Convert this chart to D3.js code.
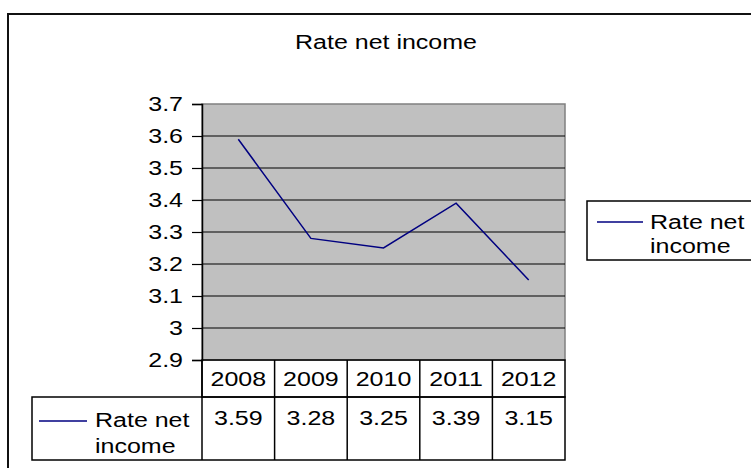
<!DOCTYPE html>
<html>
<head>
<meta charset="utf-8">
<script src="https://cdn.jsdelivr.net/npm/d3@7"></script>
<style>
  body { margin: 0; background: #fff; }
  text { font-family: "Liberation Sans", Arial, sans-serif; fill: #000; }
</style>
</head>
<body>
<div id="chart"></div>
<script>
// data
const years = ["2008", "2009", "2010", "2011", "2012"];
const rateNetIncome = [3.59, 3.28, 3.25, 3.39, 3.15];
const yTicks = [2.9, 3, 3.1, 3.2, 3.3, 3.4, 3.5, 3.6, 3.7];
const seriesName = ["Rate net", "income"];

const W = 751, H = 468;
const plot = {left: 202, right: 565, top: 104, bottom: 360};
const fs = 20;     // font size
const sx = 1.25;   // the original text is a bit wider than plain Arial

const svg = d3.select("#chart")
    .append("svg")
    .attr("width", W)
    .attr("height", H);

// helper: text stretched sideways like in the source picture
function label(x, y, str, anchor) {
    return svg.append("text")
        .attr("transform", `translate(${x},${y}) scale(${sx},1)`)
        .attr("text-anchor", anchor || "start")
        .style("font-size", fs + "px")
        .text(str);
}

// outer chart border (runs off the right and bottom of the window)
svg.append("rect")
    .attr("x", 8).attr("y", 14)
    .attr("width", 800).attr("height", 500)
    .attr("fill", "none")
    .attr("stroke", "#111")
    .attr("stroke-width", 2);

// title
label(386, 49, "Rate net income", "middle");

// scales
const x = d3.scaleBand()
    .domain(years)
    .range([plot.left, plot.right])
    .padding(0);

const y = d3.scaleLinear()
    .domain([2.9, 3.7])
    .range([plot.bottom, plot.top]);

// plot area
svg.append("rect")
    .attr("x", plot.left).attr("y", plot.top)
    .attr("width", plot.right - plot.left)
    .attr("height", plot.bottom - plot.top)
    .attr("fill", "#c0c0c0")
    .attr("stroke", "#808080")
    .attr("stroke-width", 1.5);

// gridlines
svg.append("g")
    .selectAll("line")
    .data(yTicks.filter(d => d > 2.9 && d < 3.7))
    .join("line")
    .attr("x1", plot.left).attr("x2", plot.right)
    .attr("y1", d => y(d)).attr("y2", d => y(d))
    .attr("stroke", "#000")
    .attr("stroke-width", 1.2);

// y axis
const yAxis = svg.append("g")
    .attr("transform", `translate(${plot.left},0)`)
    .call(d3.axisLeft(y)
        .tickValues(yTicks)
        .tickSize(10)
        .tickFormat(d => String(+d.toFixed(1))));
yAxis.select(".domain").attr("stroke", "#000").attr("stroke-width", 1.5);
yAxis.selectAll(".tick line").attr("stroke", "#000").attr("stroke-width", 1.2);
yAxis.selectAll(".tick text")
    .attr("x", -19 / sx)
    .attr("transform", `scale(${sx},1)`)
    .style("font-size", fs + "px")
    .style("font-family", '"Liberation Sans", Arial, sans-serif');

// line
const line = d3.line()
    .x((d, i) => x(years[i]) + x.bandwidth() / 2)
    .y(d => y(d));

svg.append("path")
    .datum(rateNetIncome)
    .attr("d", line)
    .attr("fill", "none")
    .attr("stroke", "#000080")
    .attr("stroke-width", 1.5);

// data table
const rowTop = plot.bottom, rowMid = 397, rowBot = 460, labelLeft = 32;
const table = svg.append("g")
    .attr("stroke", "#000")
    .attr("stroke-width", 1.5)
    .attr("fill", "none");

table.append("rect")
    .attr("x", plot.left).attr("y", rowTop)
    .attr("width", plot.right - plot.left).attr("height", rowMid - rowTop);
table.append("rect")
    .attr("x", labelLeft).attr("y", rowMid)
    .attr("width", plot.right - labelLeft).attr("height", rowBot - rowMid);
table.selectAll("line.col")
    .data(years)
    .join("line")
    .attr("class", "col")
    .attr("x1", d => x(d)).attr("x2", d => x(d))
    .attr("y1", rowTop).attr("y2", rowBot);

years.forEach(d => label(x(d) + x.bandwidth() / 2, 386, d, "middle"));
rateNetIncome.forEach((d, i) =>
    label(x(years[i]) + x.bandwidth() / 2, 425, d.toFixed(2), "middle"));

// legend key inside table
svg.append("line")
    .attr("x1", 39).attr("x2", 87)
    .attr("y1", 421).attr("y2", 421)
    .attr("stroke", "#000080").attr("stroke-width", 1.5);
label(95, 427, seriesName[0]);
label(95, 453, seriesName[1]);

// legend on the right (runs off the window edge)
svg.append("rect")
    .attr("x", 587).attr("y", 201)
    .attr("width", 200).attr("height", 59)
    .attr("fill", "#fff")
    .attr("stroke", "#000")
    .attr("stroke-width", 1.5);
svg.append("line")
    .attr("x1", 597).attr("x2", 643)
    .attr("y1", 222).attr("y2", 222)
    .attr("stroke", "#000080").attr("stroke-width", 1.5);
label(650, 229, seriesName[0]);
label(650, 253, seriesName[1]);
</script>
</body>
</html>
